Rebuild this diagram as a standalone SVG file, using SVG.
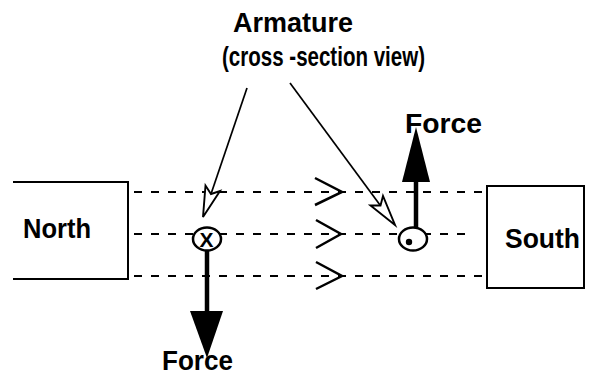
<svg xmlns="http://www.w3.org/2000/svg" width="595" height="389" viewBox="0 0 595 389">
<style>
text{font-family:"Liberation Sans",Arial,sans-serif;font-weight:bold;font-size:28px;fill:#000}
.box{fill:none;stroke:#000;stroke-width:2}
.dash{stroke:#000;stroke-width:1.8;stroke-dasharray:8 9;fill:none}
.chev{fill:none;stroke:#000;stroke-width:2.5;stroke-linejoin:miter}
.thin{stroke:#000;stroke-width:1.7;fill:none}
.open{fill:#fff;stroke:#000;stroke-width:1.9;stroke-linejoin:miter}
.shaft{stroke:#000;stroke-width:4.5}
</style>
<rect width="595" height="389" fill="#fff"/>
<g id="north">
<path class="box" d="M13 182H128V279H13"/>
<text x="23" y="238" textLength="68" lengthAdjust="spacingAndGlyphs">North</text>
</g>
<g id="south">
<rect class="box" x="487" y="186" width="97" height="102"/>
<text x="505" y="248" textLength="75" lengthAdjust="spacingAndGlyphs">South</text>
</g>
<g id="connectors">
<line class="dash" x1="134" y1="192" x2="487" y2="192"/>
<line class="dash" x1="134" y1="234" x2="472" y2="234"/>
<line class="dash" x1="134" y1="276" x2="487" y2="276"/>
<polyline class="chev" points="315,178 342,192 315,205"/>
<polyline class="chev" points="316,220 341,234 316,248"/>
<polyline class="chev" points="316,262 342,276 316,289"/>
<line class="thin" x1="247" y1="88" x2="211" y2="194"/>
<polygon class="open" points="203,217 205.5,185.5 211,194 220,191"/>
<line class="thin" x1="290" y1="83" x2="380" y2="205"/>
<polygon class="open" points="395,225 370.5,205.5 380.5,205.5 383,196"/>
</g>
<g id="armature-label">
<text x="233" y="32" textLength="120" lengthAdjust="spacingAndGlyphs">Armature</text>
<text x="222" y="66" textLength="203" lengthAdjust="spacingAndGlyphs">(cross -section view)</text>
</g>
<g id="armature-left">
<line class="shaft" x1="207" y1="248" x2="207" y2="314"/>
<polygon points="190,311 223,311 207,358" fill="#000"/>
<ellipse cx="207" cy="239" rx="14" ry="11.5" fill="#fff" stroke="#000" stroke-width="2.5"/>
<text x="206.5" y="247" text-anchor="middle" style="font-size:21px">X</text>
<text x="162" y="370" textLength="71" lengthAdjust="spacingAndGlyphs">Force</text>
</g>
<g id="armature-right">
<line class="shaft" x1="416" y1="229" x2="416" y2="178"/>
<polygon points="402,182 430,182 416,127" fill="#000"/>
<ellipse cx="413" cy="239" rx="14" ry="11.5" fill="#fff" stroke="#000" stroke-width="2.5"/>
<circle cx="409" cy="242" r="3.2" fill="#000"/>
<text x="405" y="133" textLength="77" lengthAdjust="spacingAndGlyphs">Force</text>
</g>
</svg>
